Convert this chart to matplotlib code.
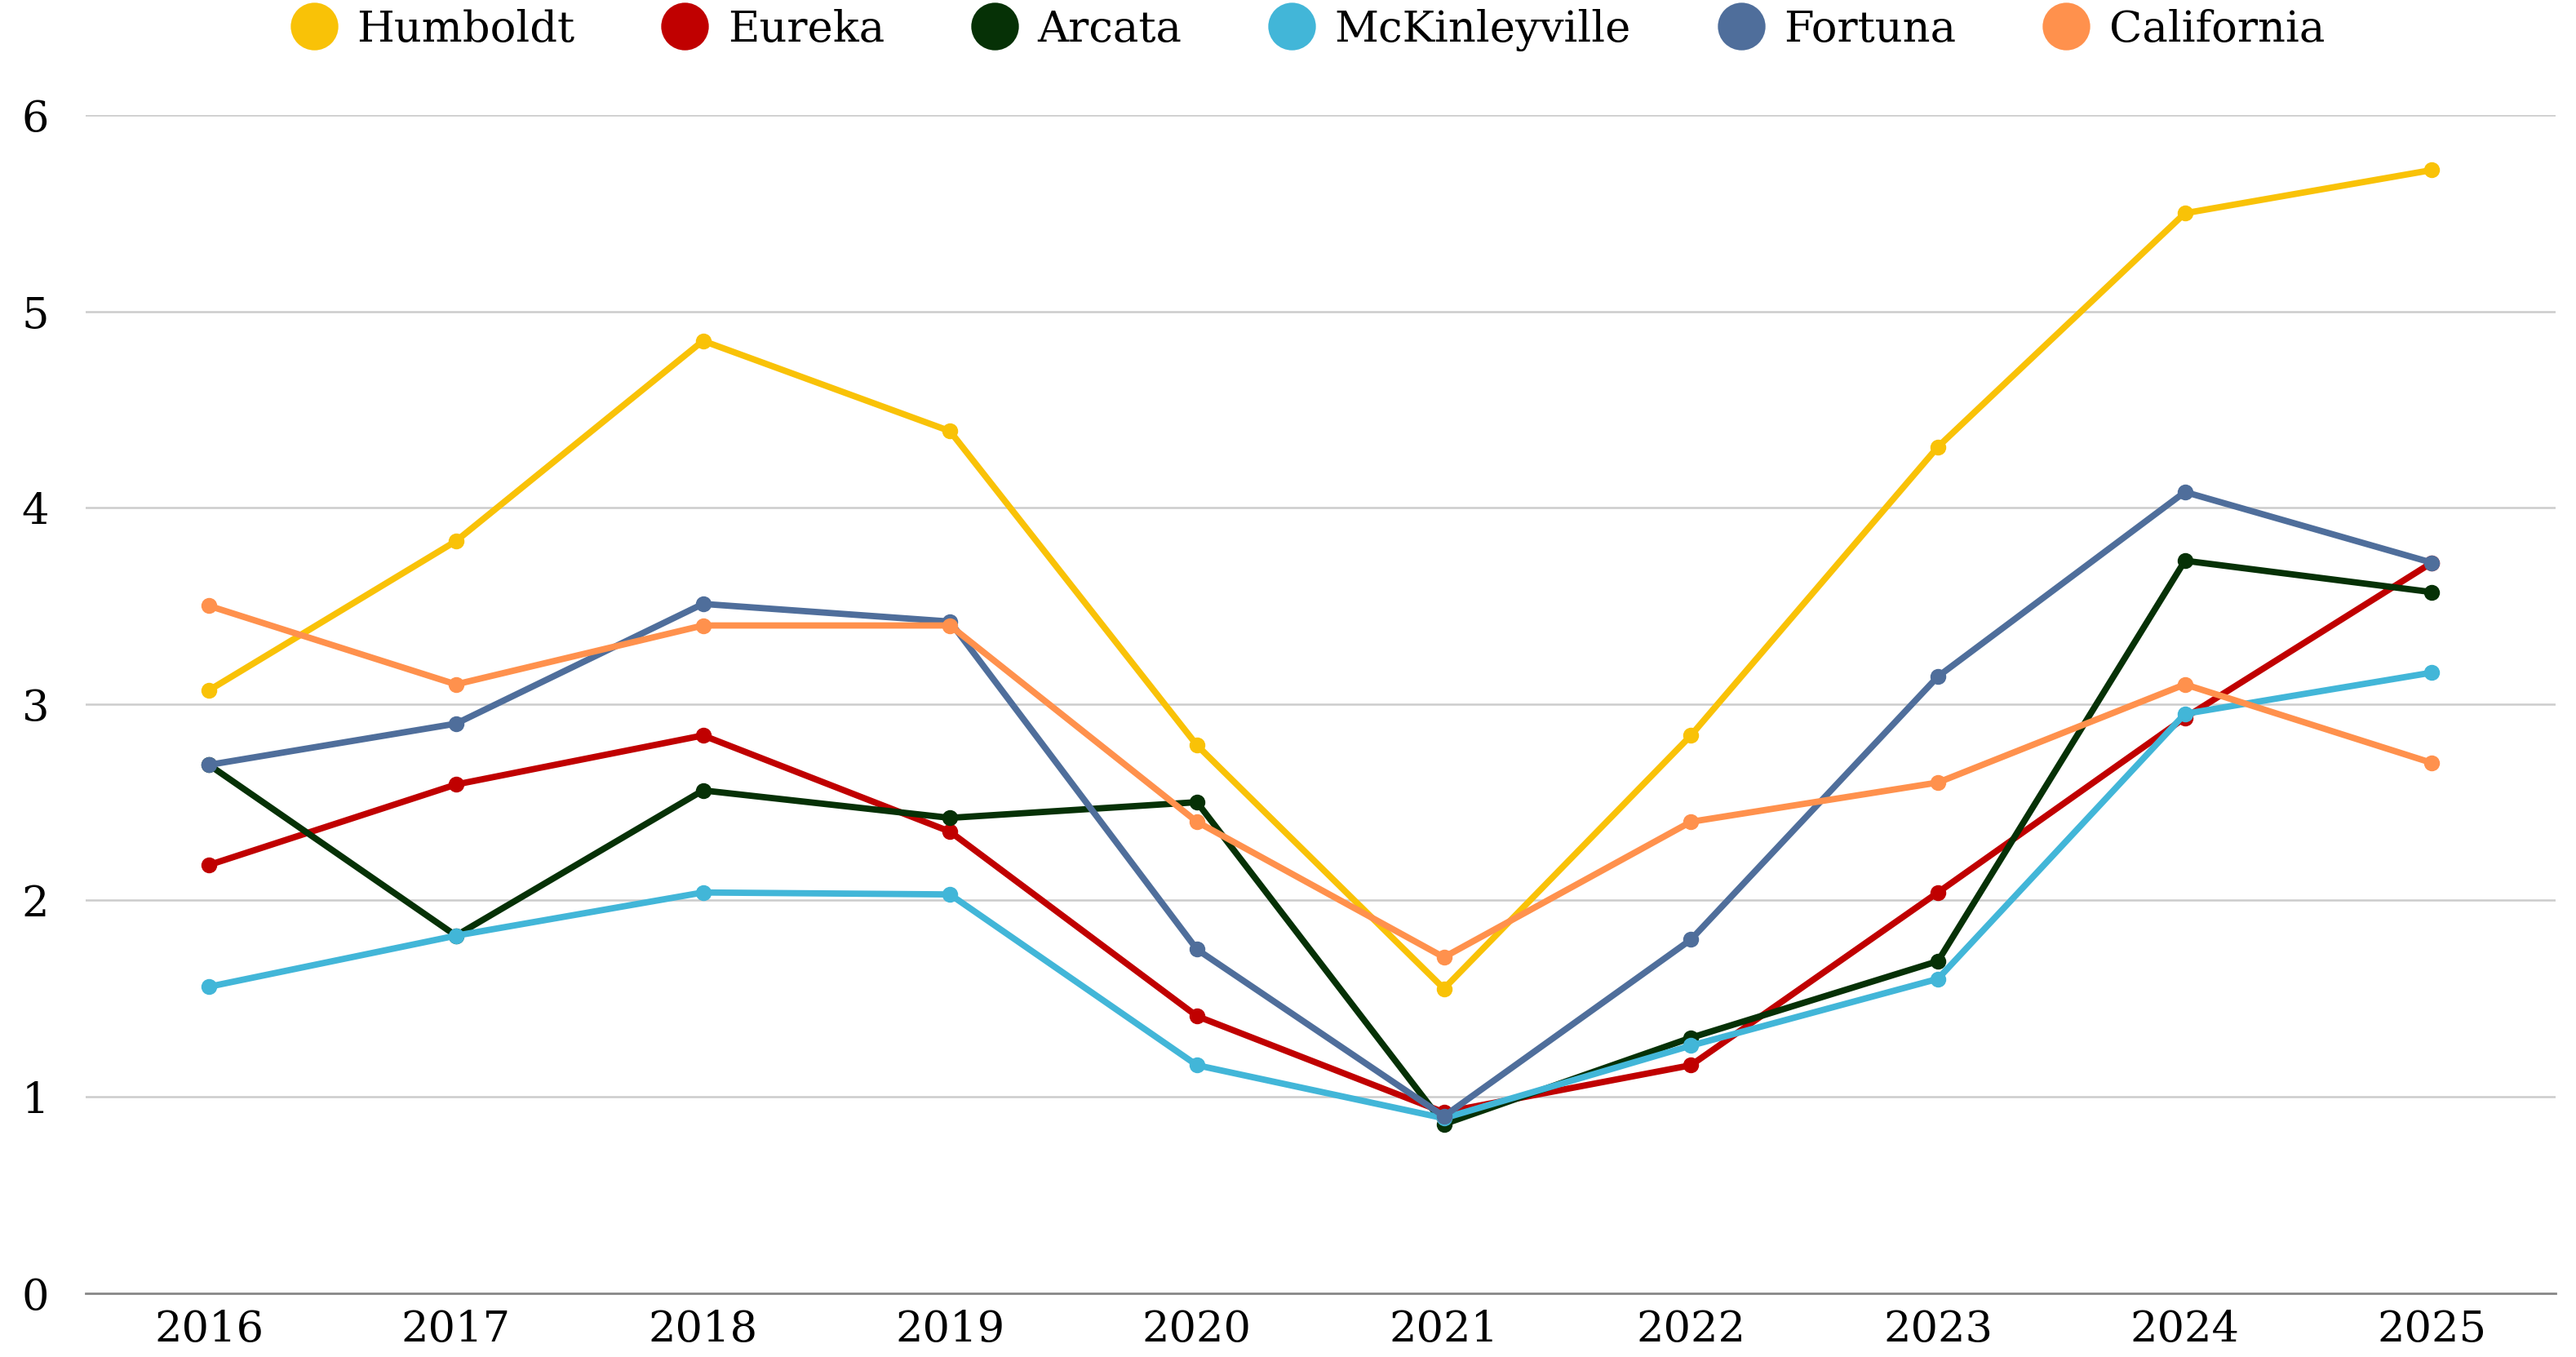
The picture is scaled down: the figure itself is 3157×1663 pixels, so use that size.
import matplotlib
matplotlib.use("Agg")
import matplotlib.pyplot as plt
from matplotlib.lines import Line2D

years = ["2016", "2017", "2018", "2019", "2020", "2021", "2022", "2023", "2024", "2025"]
humboldt = [3.07, 3.83, 4.85, 4.39, 2.79, 1.55, 2.84, 4.31, 5.50, 5.72]
eureka = [2.18, 2.59, 2.84, 2.35, 1.41, 0.92, 1.16, 2.04, 2.93, 3.72]
arcata = [2.69, 1.82, 2.56, 2.42, 2.50, 0.86, 1.30, 1.69, 3.73, 3.57]
mckinleyville = [1.56, 1.82, 2.04, 2.03, 1.16, 0.89, 1.26, 1.60, 2.95, 3.16]
fortuna = [2.69, 2.90, 3.51, 3.42, 1.75, 0.90, 1.80, 3.14, 4.08, 3.72]
california = [3.50, 3.10, 3.40, 3.40, 2.40, 1.71, 2.40, 2.60, 3.10, 2.70]

series_names = ["Humboldt", "Eureka", "Arcata", "McKinleyville", "Fortuna", "California"]
series_values = [humboldt, eureka, arcata, mckinleyville, fortuna, california]
colors = ["#F9C207", "#C00000", "#063106", "#42B6D8", "#4F6E9B", "#FF914D"]
yticks = [0, 1, 2, 3, 4, 5, 6]

plt.rcParams['font.family'] = ['DejaVu Serif']

fig = plt.figure(figsize=(15.785, 8.315), dpi=200)
ax = fig.add_axes([0.0332, 0.0472, 0.9588, 0.8680])

x = list(range(len(years)))
for name, vals, c in zip(series_names, series_values, colors):
    ax.plot(x, vals, color=c, lw=2.8, marker='o', ms=6, label=name, solid_capstyle='round')

ax.set_xlim(-0.5, len(years) - 0.5)
ax.set_ylim(0, 6)
ax.set_xticks(x)
ax.set_xticklabels(years)
ax.set_yticks(yticks)
ax.set_yticklabels([str(t) for t in yticks])
ax.tick_params(axis='both', length=0, labelsize=19, colors='black')
ax.tick_params(axis='x', pad=7)
ax.tick_params(axis='y', pad=16)
ax.grid(axis='y', color='#CCCCCC', lw=0.9)
ax.set_axisbelow(True)
for s in ['top', 'right', 'left']:
    ax.spines[s].set_visible(False)
ax.spines['bottom'].set_color('#888888')
ax.spines['bottom'].set_linewidth(1.0)

handles = [Line2D([0], [0], color=c, marker='o', ls='none', ms=20) for c in colors]
fig.legend(handles, series_names, loc='center', bbox_to_anchor=(0.508, 0.978), ncol=6,
           frameon=False, fontsize=19, handletextpad=0.5, columnspacing=2.05, handlelength=1.0)

fig.savefig("out.png", dpi=200, facecolor='white')
